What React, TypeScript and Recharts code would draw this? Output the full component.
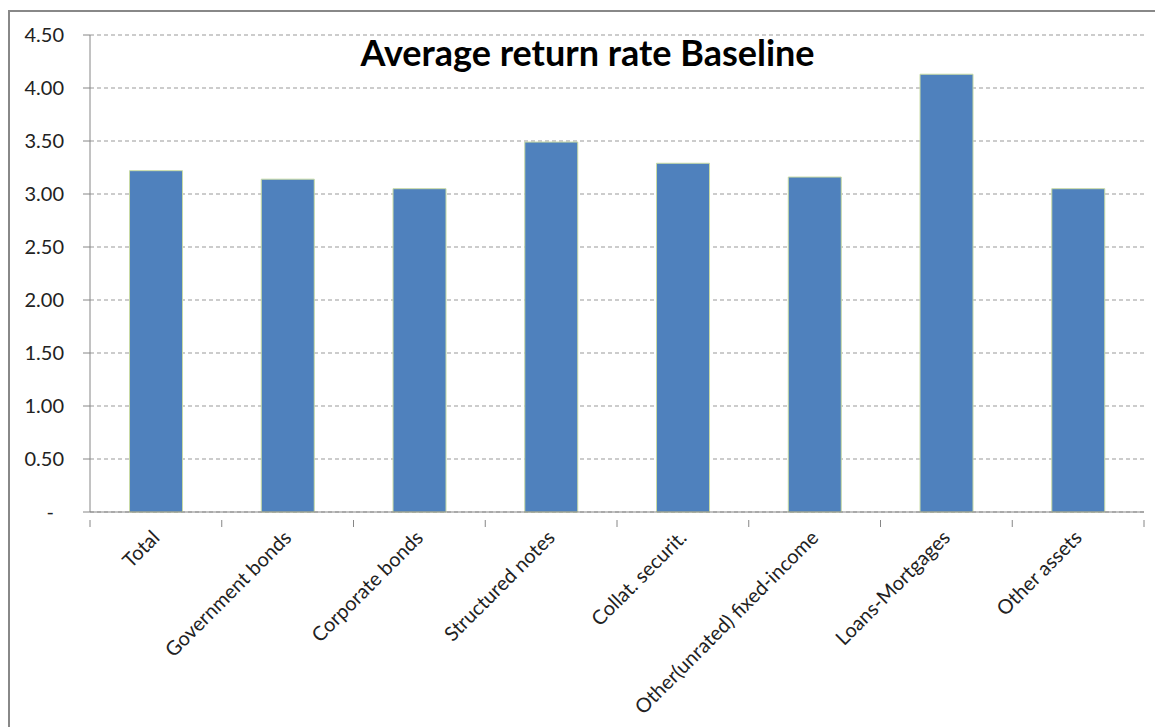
import { BarChart, Bar, XAxis, YAxis, CartesianGrid } from 'recharts';

const categories = [
  'Total',
  'Government bonds',
  'Corporate bonds',
  'Structured notes',
  'Collat. securit.',
  'Other(unrated) fixed-income',
  'Loans-Mortgages',
  'Other assets',
];
const returnRates = [3.22, 3.14, 3.05, 3.49, 3.29, 3.16, 4.13, 3.05];
const yTicks = [0, 0.5, 1, 1.5, 2, 2.5, 3, 3.5, 4, 4.5];

const data = categories.map((name, i) => ({ name, value: returnRates[i] }));

const FONT = 'Lato, "Open Sans", sans-serif';
const AXIS = '#868686';

const YTick = (props: any) => {
  const { x, y, payload } = props;
  const v = payload.value;
  const label = v === 0 ? '-' : v.toFixed(2);
  return (
    <text x={v === 0 ? x - 10 : x} y={y} dy={7} textAnchor="end" fill="#222" fontSize={20} fontFamily={FONT}>
      {label}
    </text>
  );
};

const XTick = (props: any) => {
  const { x, y, payload, index, visibleTicksCount } = props;
  const half = payload.offset ?? 66;
  return (
    <g>
      <line x1={x - half} y1={y} x2={x - half} y2={y + 7} stroke={AXIS} />
      {index === visibleTicksCount - 1 && (
        <line x1={x + half} y1={y} x2={x + half} y2={y + 7} stroke={AXIS} />
      )}
      <text
        x={x + 5}
        y={y + 19}
        textAnchor="end"
        transform={`rotate(-45 ${x + 5} ${y + 19})`}
        fill="#222"
        fontSize={20}
        fontFamily={FONT}
      >
        {payload.value}
      </text>
    </g>
  );
};

export default function App() {
  return (
    <div style={{ position: 'absolute', left: 0, top: 0, width: 1155, height: 727, overflow: 'hidden', background: '#fff' }}>
      <div
        style={{
          position: 'absolute',
          left: 8,
          top: 10,
          width: 1160,
          height: 730,
          border: '2px solid #888',
        }}
      />
      <div
        style={{
          position: 'absolute',
          left: 0,
          width: 1175,
          top: 30,
          textAlign: 'center',
          fontFamily: FONT,
          fontWeight: 'bold',
          fontSize: 36,
          color: '#000',
          zIndex: 2,
        }}
      >
        Average return rate Baseline
      </div>
      <div style={{ position: 'absolute', left: 0, top: 0 }}>
        <BarChart
          width={1155}
          height={727}
          data={data}
          margin={{ top: 35, right: 11, bottom: 0, left: 0 }}
          barCategoryGap="30%"
        >
          <CartesianGrid vertical={false} stroke="#999" strokeDasharray="4 3" />
          <XAxis
            dataKey="name"
            interval={0}
            height={215}
            axisLine={{ stroke: AXIS }}
            tickLine={false}
            tick={<XTick />}
          />
          <YAxis
            domain={[0, 4.5]}
            ticks={yTicks}
            width={90}
            interval={0}
            axisLine={{ stroke: AXIS }}
            tickLine={{ stroke: AXIS }}
            tickSize={7}
            tickMargin={19}
            tick={<YTick />}
          />
          <Bar dataKey="value" fill="#4F81BD" stroke="#C9DBA5" strokeWidth={1} isAnimationActive={false} />
        </BarChart>
      </div>
    </div>
  );
}
